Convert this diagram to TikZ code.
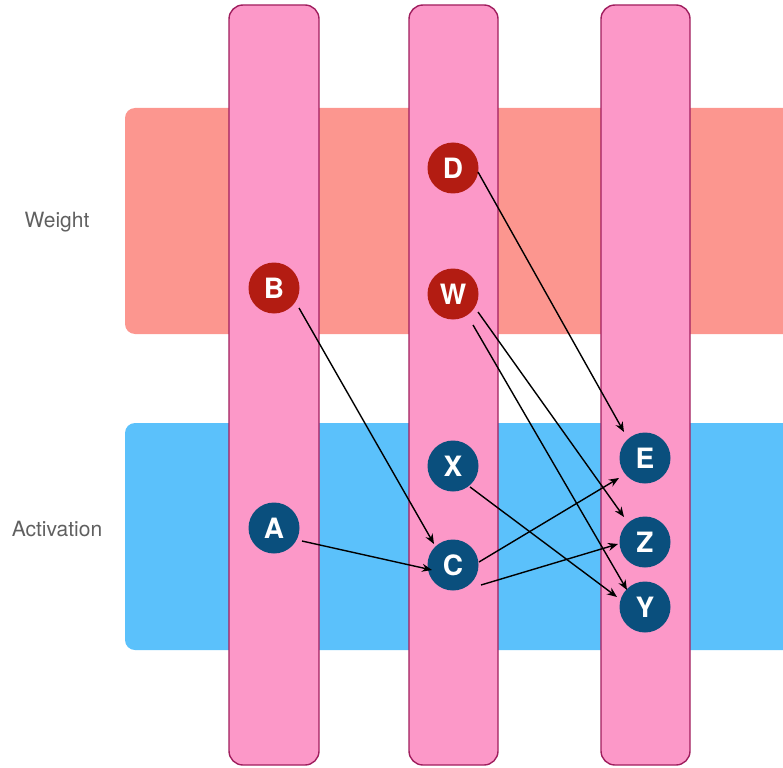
\documentclass[tikz,border=0pt]{standalone}
\usepackage{fontspec}
\setmainfont{TeX Gyre Heros}
\usetikzlibrary{arrows.meta}
\definecolor{weightband}{HTML}{FC968F}
\definecolor{actband}{HTML}{5BC1FB}
\definecolor{lanefill}{HTML}{FC98C8}
\definecolor{laneedge}{HTML}{A01E5E}
\definecolor{wnode}{HTML}{B31C12}
\definecolor{anode}{HTML}{0A4F7D}
\definecolor{labelgray}{HTML}{606060}
\tikzset{
  band/.style={rounded corners=10pt},
  lane/.style={fill=lanefill, draw=laneedge, line width=1.4pt, rounded corners=14pt},
  opnode/.style={circle, minimum size=51pt, inner sep=0pt, text=white,
    font=\fontsize{28pt}{28pt}\selectfont\bfseries},
  wop/.style={opnode, fill=wnode},
  aop/.style={opnode, fill=anode},
  rowlabel/.style={text=labelgray, font=\fontsize{21pt}{21pt}\selectfont},
  flow/.style={line width=1.4pt, -{Stealth[length=10pt,width=8pt]}},
}
\begin{document}
\begin{tikzpicture}[x=1pt,y=-1pt]
\useasboundingbox (0,0) rectangle (783,767);
\clip (0,0) rectangle (783,767);

% horizontal bands
\fill[band, weightband] (125,108) rectangle (810,334);
\fill[band, actband] (125,423) rectangle (810,650);
\node[rowlabel] (wlabel) at (57,222) {Weight};
\node[rowlabel] (alabel) at (57,529) {Activation};

% vertical lanes
\draw[lane] (229,5) rectangle (319,765);
\draw[lane] (409,5) rectangle (498,765);
\draw[lane] (601,5) rectangle (690,765);

% operands
\node[wop] (D) at (453,168) {D};
\node[wop] (B) at (274,288) {B};
\node[wop] (W) at (453,294) {W};
\node[aop] (X) at (453,466) {X};
\node[aop] (A) at (274,528) {A};
\node[aop] (C) at (453,565) {C};
\node[aop] (E) at (645,458) {E};
\node[aop] (Z) at (645,542) {Z};
\node[aop] (Y) at (645,607) {Y};

% data flow
\draw[flow] ([shift={(25,4)}]D.center) -- ([shift={(-21,-26)}]E.center);
\draw[flow] ([shift={(25,20)}]B.center) -- ([shift={(-19,-21)}]C.center);
\draw[flow] ([shift={(28,13)}]A.center) -- ([shift={(-21,5)}]C.center);
\draw[flow] ([shift={(25,18)}]W.center) -- ([shift={(-21,-25)}]Z.center);
\draw[flow] ([shift={(20,31)}]W.center) -- ([shift={(-18,-17)}]Y.center);
\draw[flow] ([shift={(17,21)}]X.center) -- ([shift={(-28,-10)}]Y.center);
\draw[flow] ([shift={(26,-3)}]C.center) -- ([shift={(-26,20)}]E.center);
\draw[flow] ([shift={(28,20)}]C.center) -- ([shift={(-27,2)}]Z.center);
\end{tikzpicture}
\end{document}
